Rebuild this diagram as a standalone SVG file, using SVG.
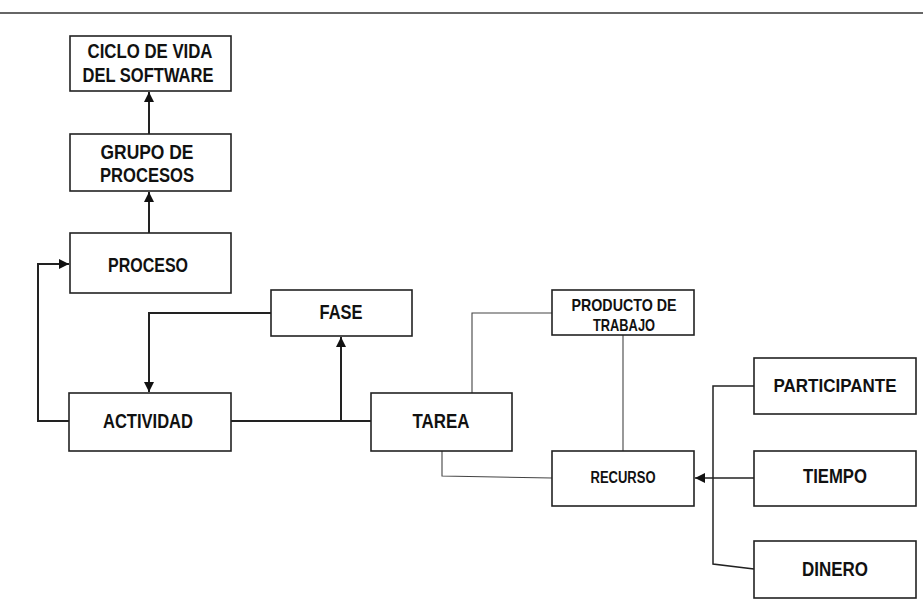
<svg xmlns="http://www.w3.org/2000/svg" width="923" height="604" viewBox="0 0 923 604">
<style>
.box{fill:#fff;stroke:#222;stroke-width:1.6}
.t{font-family:"Liberation Sans",Arial,sans-serif;font-weight:bold;fill:#111;text-anchor:middle;font-size:21px}
.s{font-size:17px}
.r{font-size:16px}
.p{font-size:19px}
.c{fill:none;stroke:#222;stroke-width:2}
.thin{fill:none;stroke:#444;stroke-width:1.1}
</style>
<defs>
<marker id="ah" viewBox="0 0 10 10" refX="10" refY="5" markerWidth="12" markerHeight="10" markerUnits="userSpaceOnUse" orient="auto">
<path d="M0,0 L10,5 L0,10 z" fill="#111"/>
</marker>
</defs>
<rect width="923" height="604" fill="#fff"/>
<line x1="0" y1="13" x2="923" y2="13" stroke="#333" stroke-width="1.5"/>
<g id="connectors">
<line class="c" x1="149" y1="134" x2="149" y2="92" marker-end="url(#ah)"/>
<line class="c" x1="149" y1="233" x2="149" y2="192" marker-end="url(#ah)"/>
<polyline class="c" points="69,421 38,421 38,264 69,264" marker-end="url(#ah)"/>
<polyline class="c" points="271,313 149,313 149,392" marker-end="url(#ah)"/>
<line class="c" x1="231" y1="421" x2="371" y2="421"/>
<line class="c" x1="341" y1="421" x2="341" y2="337" marker-end="url(#ah)"/>
<polyline class="thin" points="472,393 472,313 552,313"/>
<line class="thin" x1="623" y1="335" x2="623" y2="451"/>
<polyline class="thin" points="442,451 442,476 552,478"/>
<polyline class="c" style="stroke-width:1.5" points="754,386 713,386 713,564 754,569"/>
<line class="c" style="stroke-width:1.5" x1="754" y1="478" x2="695" y2="478" marker-end="url(#ah)"/>
</g>
<g id="ciclo"><rect class="box" x="70" y="36" width="161" height="55"/><text class="t" x="150" y="58" textLength="125" lengthAdjust="spacingAndGlyphs">CICLO DE VIDA</text><text class="t" x="148" y="82" textLength="131" lengthAdjust="spacingAndGlyphs">DEL SOFTWARE</text></g>
<g id="grupo"><rect class="box" x="70" y="134" width="161" height="57"/><text class="t" x="147" y="159" textLength="93" lengthAdjust="spacingAndGlyphs">GRUPO DE</text><text class="t" x="147" y="182" textLength="94" lengthAdjust="spacingAndGlyphs">PROCESOS</text></g>
<g id="proceso"><rect class="box" x="70" y="233" width="161" height="60"/><text class="t" x="148" y="272" textLength="80" lengthAdjust="spacingAndGlyphs">PROCESO</text></g>
<g id="fase"><rect class="box" x="271" y="290" width="141" height="46"/><text class="t" x="341" y="319" textLength="43" lengthAdjust="spacingAndGlyphs">FASE</text></g>
<g id="actividad"><rect class="box" x="69" y="393" width="162" height="58"/><text class="t" x="148" y="428" textLength="90" lengthAdjust="spacingAndGlyphs">ACTIVIDAD</text></g>
<g id="tarea"><rect class="box" x="371" y="393" width="141" height="58"/><text class="t" x="441" y="428" textLength="57" lengthAdjust="spacingAndGlyphs">TAREA</text></g>
<g id="producto"><rect class="box" x="552" y="290" width="142" height="45"/><text class="t s" x="624" y="311" textLength="105" lengthAdjust="spacingAndGlyphs">PRODUCTO DE</text><text class="t s" x="624" y="331" textLength="62" lengthAdjust="spacingAndGlyphs">TRABAJO</text></g>
<g id="recurso"><rect class="box" x="552" y="451" width="142" height="55"/><text class="t r" x="623" y="483" textLength="65" lengthAdjust="spacingAndGlyphs">RECURSO</text></g>
<g id="participante"><rect class="box" x="754" y="358" width="162" height="56"/><text class="t p" x="835" y="392" textLength="123" lengthAdjust="spacingAndGlyphs">PARTICIPANTE</text></g>
<g id="tiempo"><rect class="box" x="754" y="451" width="162" height="55"/><text class="t" x="835" y="483" textLength="64" lengthAdjust="spacingAndGlyphs">TIEMPO</text></g>
<g id="dinero"><rect class="box" x="754" y="541" width="162" height="57"/><text class="t" x="835" y="576" textLength="66" lengthAdjust="spacingAndGlyphs">DINERO</text></g>
</svg>
